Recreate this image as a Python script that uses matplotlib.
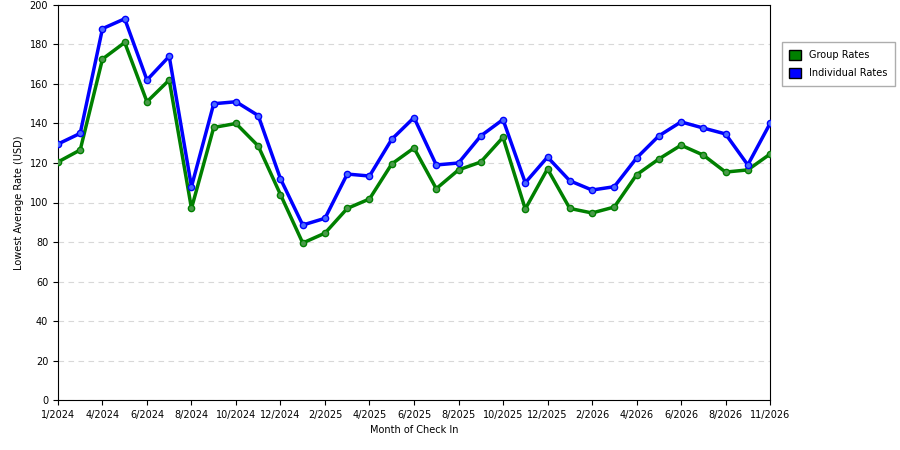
import matplotlib.pyplot as plt
from matplotlib.patches import Patch

# Etiquetas del eje x (cada dos puntos)
tick_labels = ['1/2024', '4/2024', '6/2024', '8/2024', '10/2024', '12/2024',
               '2/2025', '4/2025', '6/2025', '8/2025', '10/2025', '12/2025',
               '2/2026', '4/2026', '6/2026', '8/2026', '11/2026']

individual = [129.6, 135, 188, 193, 162, 174, 108, 150, 151, 144, 112, 88.6,
              92, 114.4, 113.4, 132, 143, 119, 120, 133.7, 142, 110, 123, 111,
              106.3, 108, 122.5, 133.7, 140.8, 137.7, 134.7, 119, 140]
group = [120.5, 126.6, 172.6, 181, 151, 162, 97, 138, 140, 128.6, 104, 79.5,
         84.5, 97, 101.8, 119.5, 127.6, 107, 116.5, 120.5, 133, 96.7, 117, 97,
         94.7, 97.7, 114, 122, 129, 124, 115.4, 116.5, 124.5]

x = list(range(len(group)))

fig = plt.figure(figsize=(9, 4.5), dpi=100)
ax = fig.add_axes([0.0644, 0.111, 0.7912, 0.878])

ax.plot(x, group, color='#008000', lw=2.5, marker='o', ms=4.5,
        mfc='#4a9a4a', mec='#008000', zorder=3)
ax.plot(x, individual, color='#0000ff', lw=2.5, marker='o', ms=4.5,
        mfc='#4a6aff', mec='#0000ff', zorder=3)

ax.set_xlim(0, len(x) - 1)
ax.set_ylim(0, 200)
ax.set_yticks(range(0, 201, 20))
ax.set_xticks(range(0, len(x), 2))
ax.set_xticklabels(tick_labels)
ax.tick_params(labelsize=7)
ax.yaxis.grid(True, linestyle=(0, (5, 4)), color='#d8d8d8', lw=0.8)
ax.set_axisbelow(True)
ax.set_xlabel('Month of Check In', fontsize=7)
ax.set_ylabel('Lowest Average Rate (USD)', fontsize=7)

handles = [Patch(facecolor='#008000', edgecolor='black', label='Group Rates'),
           Patch(facecolor='#0000ff', edgecolor='black', label='Individual Rates')]
fig.legend(handles=handles, loc='upper left', bbox_to_anchor=(0.863, 0.918),
           fontsize=7, frameon=True, fancybox=False, edgecolor='#999999',
           handlelength=1.2, handleheight=1.2, labelspacing=0.8,
           borderpad=0.8)

plt.savefig('out.png')
